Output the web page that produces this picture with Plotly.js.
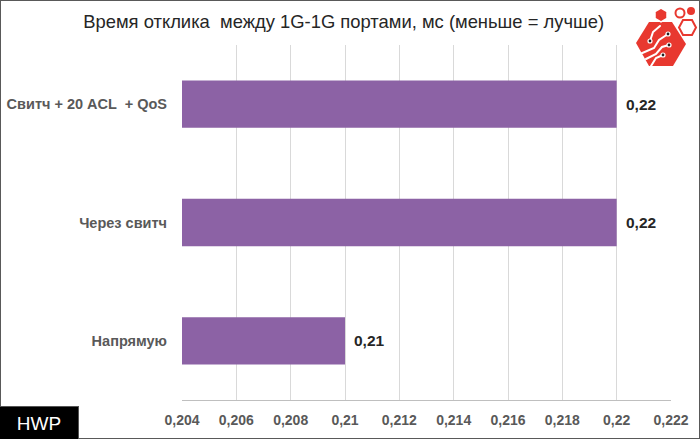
<!DOCTYPE html>
<html>
<head>
<meta charset="utf-8">
<script src="https://cdn.plot.ly/plotly-3.0.1.min.js"></script>
<style>
html,body{margin:0;padding:0;background:#fff;}
#wrap{position:relative;width:700px;height:439px;overflow:hidden;}
#chart{position:absolute;left:0;top:0;width:700px;height:439px;}
#frame{position:absolute;left:0;top:0;width:698px;height:437px;border:1px solid #595959;pointer-events:none;}
#hwp{position:absolute;left:0;top:406px;width:79px;height:33px;background:#000;color:#fff;font-family:"Liberation Sans",Arial,sans-serif;font-size:19px;line-height:33px;text-align:center;border-top:1px solid #555;border-right:1px solid #555;box-sizing:border-box;}
#logo{position:absolute;left:0;top:0;pointer-events:none;}
</style>
</head>
<body>
<div id="wrap">
<div id="chart"></div>
<div id="frame"></div>
<div id="hwp">HWP</div>
<svg id="logo" width="700" height="80" viewBox="0 0 700 80">
  <polygon points="636,43 649,22 672,22 686,44 673,66 649,66" fill="#e8382f"/>
  <polygon points="661,8 667,11.5 667,18.5 661,22 655,18.5 655,11.5" fill="#e8382f" stroke="#fff" stroke-width="1.5"/>
  <circle cx="680" cy="13" r="4.5" fill="none" stroke="#e8382f" stroke-width="2"/>
  <circle cx="691" cy="11" r="4" fill="#e8382f"/>
  <polygon points="683,20 692,20 696,27.5 692,35 683,35 679,27.5" fill="none" stroke="#e8382f" stroke-width="2"/>
  <g stroke="#fff" stroke-width="2" fill="none" stroke-linecap="round">
    <polyline points="650,41 653,32 660,26"/>
    <polyline points="668,34 659,40 654,48 640,54"/>
    <polyline points="669,45 662,47 656,54 646,59"/>
    <polyline points="663,55 656,58 651,66"/>
  </g>
  <g fill="#222" stroke="#fff" stroke-width="1.2">
    <circle cx="650" cy="41" r="2"/>
    <circle cx="668" cy="34" r="2"/>
    <circle cx="669" cy="45" r="2"/>
    <circle cx="663" cy="55" r="2"/>
  </g>
</svg>
</div>
<script>
var categories = ["Напрямую", "Через свитч", "Свитч + 20 ACL  + QoS"];
var values = [0.21, 0.22, 0.22];
var valueLabels = ["0,21", "0,22", "0,22"];
var tickValues = [0.204, 0.206, 0.208, 0.21, 0.212, 0.214, 0.216, 0.218, 0.22, 0.222];
var tickLabels = ["0,204", "0,206", "0,208", "0,21", "0,212", "0,214", "0,216", "0,218", "0,22", "0,222"];
var axisStart = 0.204;

var trace = {
  type: "bar",
  orientation: "h",
  y: categories,
  x: values.map(function(v){ return v - axisStart; }),
  base: axisStart,
  hoverinfo: "none",
  marker: {color: "#8c62a5"},
  width: 0.4
};

var annotations = categories.map(function(c, i){
  return {
    x: values[i], y: c, xref: "x", yref: "y",
    text: valueLabels[i], showarrow: false,
    xanchor: "left", xshift: 7, yanchor: "middle",
    font: {family: "Liberation Sans, Arial, sans-serif", size: 15.5, color: "#262626", weight: "bold"}
  };
});

var layout = {
  width: 700, height: 439,
  margin: {l: 182, r: 29, t: 45, b: 39},
  paper_bgcolor: "#fff", plot_bgcolor: "#fff",
  showlegend: false,
  annotations: annotations,
  title: {text: "Время отклика  между 1G-1G портами, мс (меньше = лучше)", x: 0.491, xanchor: "center", y: 0.95, yanchor: "middle",
          font: {family: "Liberation Sans, Arial, sans-serif", size: 18.4, color: "#262626"}},
  xaxis: {
    range: [0.204, 0.222], tickvals: tickValues, ticktext: tickLabels,
    showgrid: true, gridcolor: "#d9d9d9", gridwidth: 1,
    zeroline: false, showline: true, linecolor: "#bfbfbf", linewidth: 1,
    ticks: "", ticklabelstandoff: 7,
    tickfont: {family: "Liberation Sans, Arial, sans-serif", size: 14, color: "#595959", weight: "bold"},
    fixedrange: true
  },
  yaxis: {
    showgrid: false, zeroline: false, showline: false,
    ticks: "", ticklabelstandoff: 14,
    tickfont: {family: "Liberation Sans, Arial, sans-serif", size: 14.5, color: "#595959", weight: "bold"},
    fixedrange: true
  },
  font: {family: "Liberation Sans, Arial, sans-serif"}
};

Plotly.newPlot("chart", [trace], layout, {staticPlot: true, displayModeBar: false});
</script>
</body>
</html>
